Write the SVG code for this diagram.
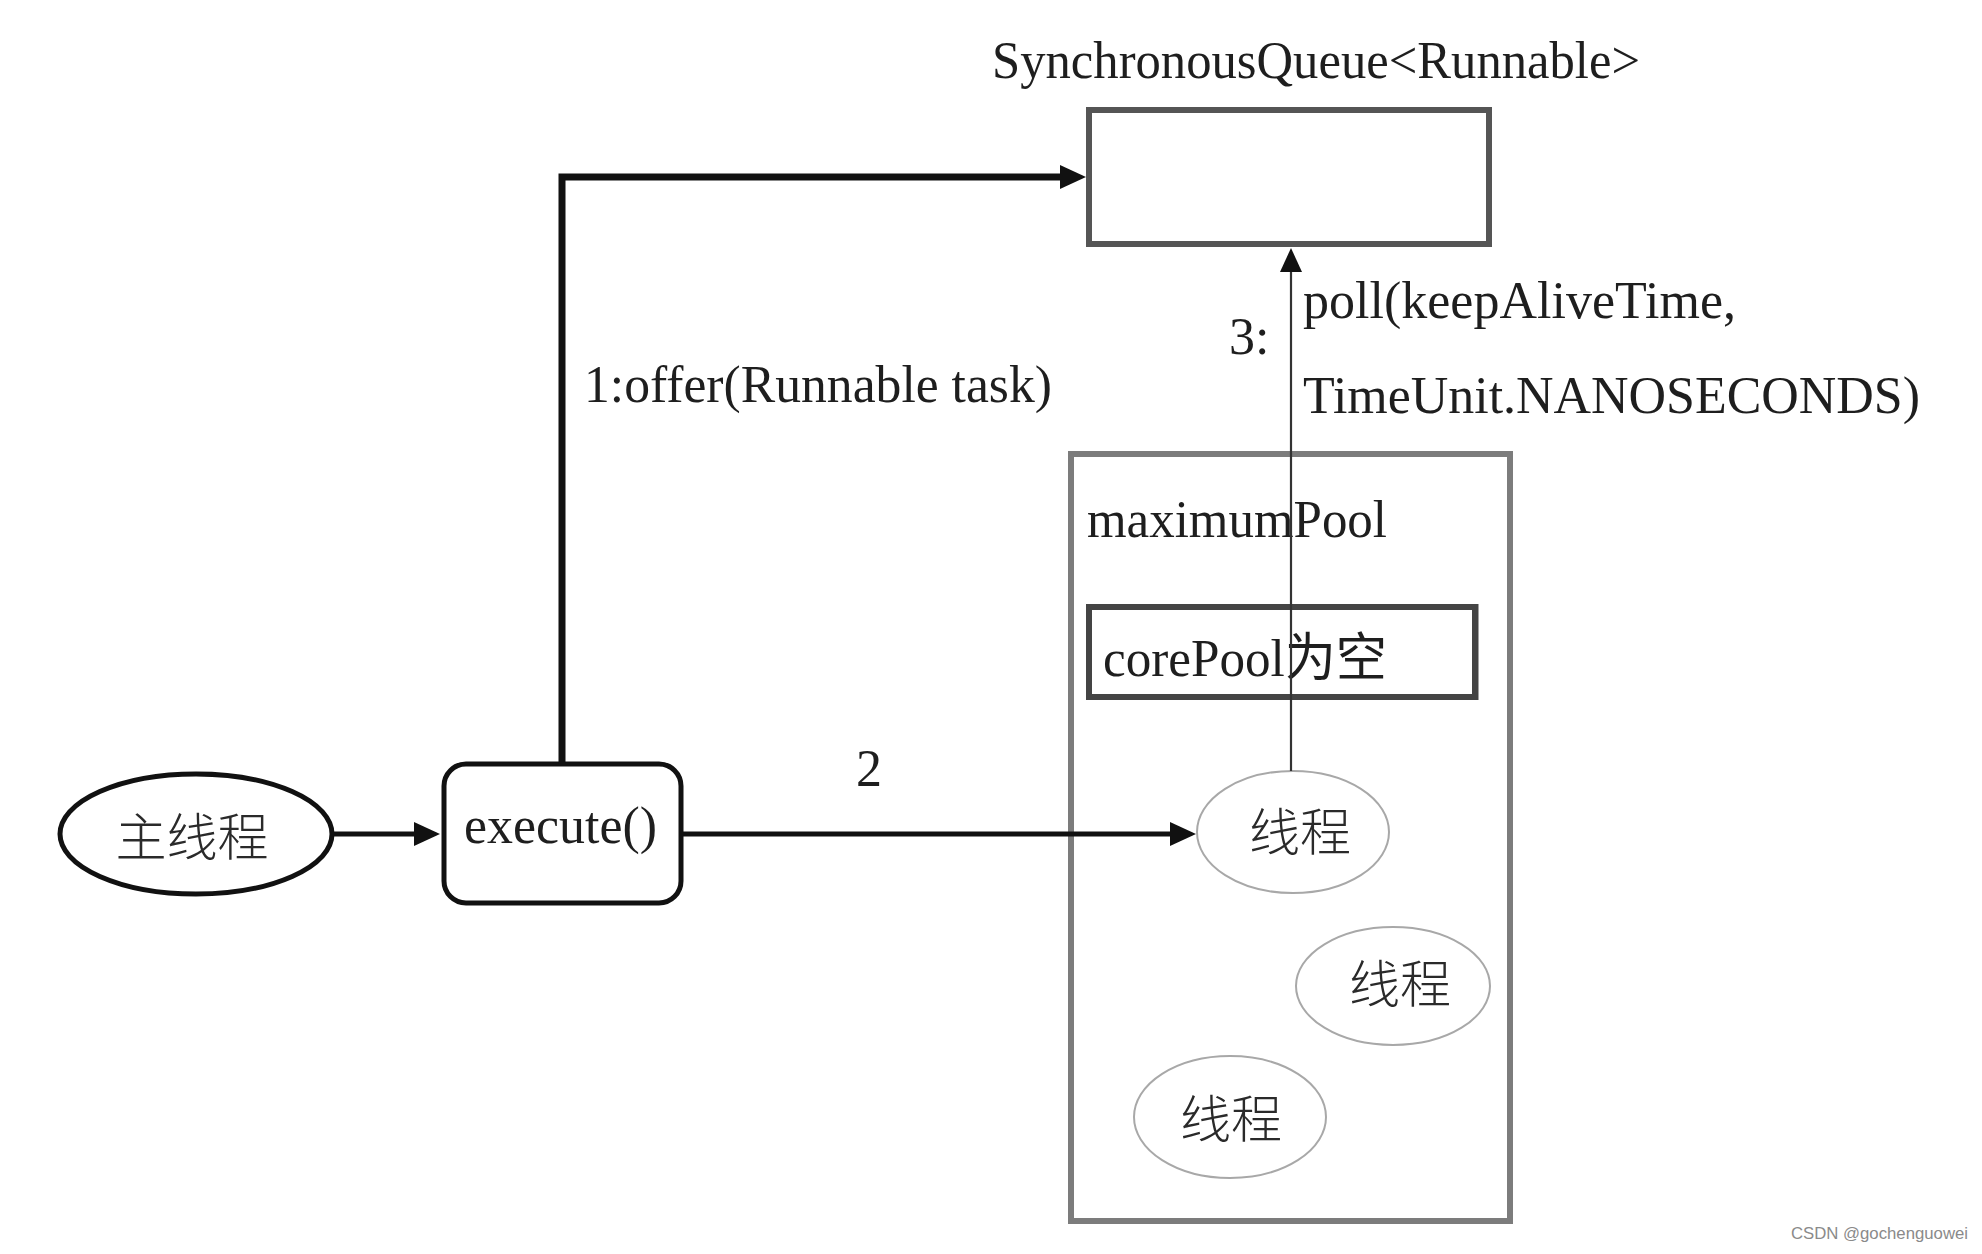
<svg xmlns="http://www.w3.org/2000/svg" width="1982" height="1254" viewBox="0 0 1982 1254">
<style>
.t{font-family:"Liberation Serif","Noto Sans CJK SC",serif;font-size:52px;fill:#1e1e1e}
.cjk{font-family:"Noto Sans CJK SC","Noto Sans CJK JP",sans-serif;font-size:51px;fill:#2a2a2a;font-weight:300}
.thread{fill:#fff;stroke:#a8a8a8;stroke-width:2}
.wm{font-family:"Liberation Sans",Arial,sans-serif;font-size:16.5px;fill:#8a8a8a}
</style>
<defs>
<marker id="ah" viewBox="0 0 26 24" markerWidth="26" markerHeight="24" markerUnits="userSpaceOnUse" refX="6" refY="12" orient="auto">
<path d="M0,0 L26,12 L0,24 z" fill="#111"/>
</marker>
<marker id="ahs" viewBox="0 0 24 22" markerWidth="24" markerHeight="22" markerUnits="userSpaceOnUse" refX="4" refY="11" orient="auto">
<path d="M0,0 L24,11 L0,22 z" fill="#111"/>
</marker>
</defs>
<rect width="1982" height="1254" fill="#fff"/>

<g id="queue">
<text class="t" x="992" y="78" textLength="648" lengthAdjust="spacingAndGlyphs">SynchronousQueue&lt;Runnable&gt;</text>
<rect x="1089" y="110" width="400" height="134" fill="#fff" stroke="#555" stroke-width="6"/>
</g>

<g id="maximumPool">
<rect x="1071" y="454" width="439" height="767" fill="none" stroke="#7c7c7c" stroke-width="6"/>
<text class="t" x="1087" y="537" textLength="300" lengthAdjust="spacingAndGlyphs">maximumPool</text>
</g>

<g id="corePool">
<rect x="1089" y="607" width="386" height="90" fill="none" stroke="#444" stroke-width="6"/>
<line x1="1477" y1="604" x2="1477" y2="700" stroke="#444" stroke-width="3"/>
<text class="t" x="1103" y="676" textLength="284" lengthAdjust="spacingAndGlyphs">corePool为空</text>
</g>

<g id="main-thread">
<ellipse cx="196" cy="834" rx="136" ry="60" fill="#fff" stroke="#111" stroke-width="5"/>
<text class="cjk" x="192" y="856" text-anchor="middle" font-size="51">主线程</text>
</g>

<g id="execute">
<rect x="444" y="764" width="237" height="139" rx="22" ry="22" fill="#fff" stroke="#111" stroke-width="5"/>
<text class="t" x="464" y="843" textLength="193" lengthAdjust="spacingAndGlyphs">execute()</text>
</g>

<g id="thread1">
<ellipse class="thread" cx="1293" cy="832" rx="96" ry="61"/>
<text class="cjk" x="1300" y="851" text-anchor="middle">线程</text>
</g>
<g id="thread2">
<ellipse class="thread" cx="1393" cy="986" rx="97" ry="59"/>
<text class="cjk" x="1400" y="1003" text-anchor="middle">线程</text>
</g>
<g id="thread3">
<ellipse class="thread" cx="1230" cy="1117" rx="96" ry="61"/>
<text class="cjk" x="1231" y="1138" text-anchor="middle">线程</text>
</g>

<g id="connectors" fill="none" stroke="#111">
<path d="M562,764 V177 H1066" stroke-width="7" marker-end="url(#ah)"/>
<path d="M333,834 H420" stroke-width="5" marker-end="url(#ah)"/>
<path d="M683,834 H1176" stroke-width="5" marker-end="url(#ah)"/>
<path d="M1291,771 V268" stroke-width="2.2" stroke="#333" marker-end="url(#ahs)"/>
</g>

<g id="labels">
<text class="t" x="584" y="402" textLength="468" lengthAdjust="spacingAndGlyphs">1:offer(Runnable task)</text>
<text class="t" x="856" y="786">2</text>
<text class="t" x="1229" y="354">3:</text>
<text class="t" x="1303" y="318" textLength="433" lengthAdjust="spacingAndGlyphs">poll(keepAliveTime,</text>
<text class="t" x="1303" y="413" textLength="617" lengthAdjust="spacingAndGlyphs">TimeUnit.NANOSECONDS)</text>
</g>

<text class="wm" x="1791" y="1239" textLength="177" lengthAdjust="spacingAndGlyphs">CSDN @gochenguowei</text>
</svg>
